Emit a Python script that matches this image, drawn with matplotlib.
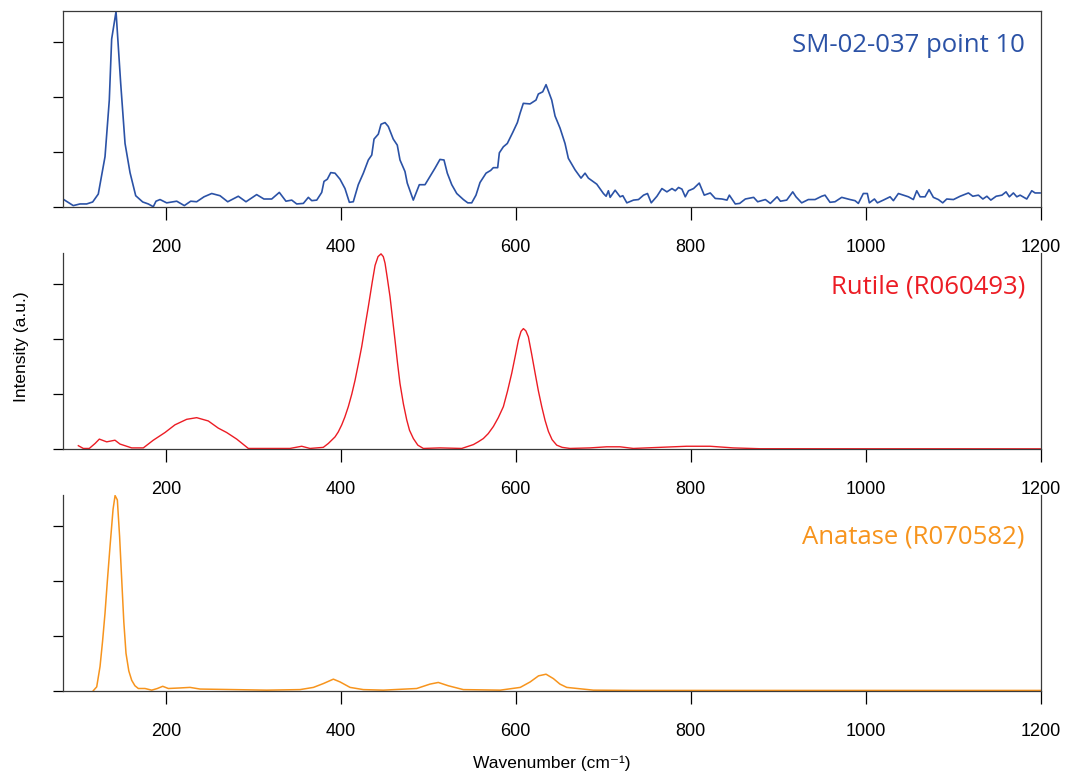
import matplotlib

matplotlib.use("Agg")
import matplotlib.pyplot as plt

# sample spectrum (SM-02-037 point 10)
sample_x = [82.6, 94, 101.7, 109.3, 116.2, 122.6, 130.3, 135.2, 137.9, 142.9, 148.2, 153.2,
            158.9, 165.4, 173.4, 179.8, 185.5, 188.6, 193.2, 200.8, 212.3, 221, 228.3, 235.1,
            243.5, 252.3, 261.8, 270.6, 282.7, 291.5, 303.7, 312, 320.9, 329.6, 337.2, 343.8,
            349.5, 357.1, 362.8, 366.7, 372.4, 378.1, 380.7, 384.5, 388.4, 393.3, 399, 404.7,
            409.7, 414.2, 419.9, 425.7, 431.4, 435.3, 437.9, 442.8, 445.9, 450.5, 454.2, 459.9,
            464.5, 467.6, 473.3, 475.9, 482.8, 489.7, 496.2, 501.9, 507.6, 513.3, 517.9, 521.7,
            526.8, 532.5, 540.1, 545.1, 549.6, 554.5, 559.1, 566, 571.3, 574.3, 579.3, 581.2,
            585.8, 590.3, 596.5, 601.8, 604.9, 608.6, 616.3, 623.1, 625.8, 630.8, 634.6, 641.1,
            644.9, 650.6, 656.3, 660.1, 667.8, 674.6, 679.2, 683, 692.6, 700.2, 703.3, 705.9,
            707.9, 713.6, 719.3, 722.4, 727, 734.6, 740.3, 746.1, 750.6, 754.9, 761.4, 767.1,
            772.8, 778.6, 782.4, 786.1, 790, 793.8, 797.5, 803.3, 809.8, 815.5, 822.4, 828.1,
            835.8, 841.5, 844.2, 851, 856, 862.5, 872, 876.6, 885.4, 891.1, 898.8, 902.6,
            909.8, 916.7, 920.4, 926.9, 934.5, 942.2, 949.8, 953.6, 959.3, 965, 972.7, 982.2,
            987.9, 991.7, 997.4, 1002, 1004.3, 1010.1, 1013.5, 1020.3, 1028, 1031.8, 1037.5,
            1043.3, 1049, 1054.6, 1058.5, 1062.3, 1068, 1072.6, 1077.5, 1083.2, 1088.2, 1092.8,
            1100.5, 1108.1, 1117.6, 1122.6, 1129, 1134.1, 1138.7, 1143.2, 1149.3, 1155.9,
            1160.6, 1164.4, 1169, 1172.9, 1176.7, 1184.3, 1190, 1193.8, 1199.5]
sample_y = [0.135, 0.02, 0.05, 0.05, 0.086, 0.23, 0.91, 1.94, 3.05, 3.55, 2.25, 1.15,
            0.62, 0.20, 0.086, 0.05, 0.0, 0.10, 0.13, 0.07, 0.10, 0.02, 0.10, 0.09,
            0.18, 0.24, 0.20, 0.09, 0.19, 0.09, 0.22, 0.14, 0.14, 0.26, 0.10, 0.12,
            0.05, 0.06, 0.17, 0.11, 0.12, 0.26, 0.46, 0.50, 0.62, 0.61, 0.50, 0.33,
            0.08, 0.09, 0.40, 0.61, 0.85, 0.94, 1.23, 1.32, 1.50, 1.53, 1.46, 1.23,
            1.12, 0.85, 0.64, 0.43, 0.12, 0.40, 0.40, 0.55, 0.70, 0.86, 0.85, 0.61,
            0.40, 0.24, 0.13, 0.07, 0.07, 0.21, 0.44, 0.61, 0.66, 0.71, 0.71, 0.98,
            1.09, 1.15, 1.35, 1.53, 1.70, 1.88, 1.87, 1.94, 2.05, 2.09, 2.22, 1.94,
            1.65, 1.43, 1.15, 0.88, 0.67, 0.52, 0.61, 0.52, 0.41, 0.24, 0.19, 0.29,
            0.17, 0.30, 0.18, 0.20, 0.07, 0.12, 0.13, 0.21, 0.24, 0.07, 0.19, 0.33,
            0.27, 0.33, 0.29, 0.35, 0.32, 0.18, 0.29, 0.33, 0.43, 0.21, 0.25, 0.15,
            0.14, 0.12, 0.21, 0.05, 0.06, 0.14, 0.17, 0.09, 0.13, 0.06, 0.18, 0.10,
            0.12, 0.27, 0.18, 0.07, 0.13, 0.13, 0.19, 0.21, 0.08, 0.09, 0.17, 0.13,
            0.11, 0.06, 0.24, 0.24, 0.07, 0.14, 0.07, 0.12, 0.18, 0.11, 0.24,
            0.21, 0.18, 0.13, 0.29, 0.18, 0.18, 0.31, 0.17, 0.13, 0.07, 0.14,
            0.13, 0.19, 0.25, 0.19, 0.21, 0.14, 0.19, 0.12, 0.19, 0.21,
            0.27, 0.18, 0.25, 0.18, 0.21, 0.14, 0.29, 0.25, 0.25]

# rutile reference (R060493)
rutile_x = [99.8, 105.5, 112.3, 118.9, 123.8, 132.2, 141.7, 147.4, 160.8, 174.1, 185.5, 198.9,
            210.3, 223.7, 235.1, 248.4, 259.8, 269.4, 280.9, 294.2, 315.2, 341.8, 355.2, 364.7,
            379.9, 385.6, 393.3, 397, 401, 404.5, 408.5, 412.5, 416.2, 420, 423.8, 427.5,
            431.4, 436, 439.1, 442.5, 445.9, 448.5, 450.5, 453, 456.2, 459, 461.9, 464.8,
            467.6, 471.5, 475.3, 478.5, 482.9, 488, 494.3, 513.4, 538.2, 551.5, 557, 562.9,
            568.5, 574.4, 580, 585.8, 590.5, 595.4, 599.5, 603, 606, 608.7, 611.5, 614.4,
            618, 622.1, 625.8, 629.7, 633.5, 637.3, 641.5, 646.8, 653, 662, 684.9, 704, 719.2,
            734.4, 764.9, 795.4, 822.1, 848.7, 879.2, 902, 1000, 1100, 1200]
rutile_y = [0.06, 0.01, 0.01, 0.10, 0.18, 0.13, 0.16, 0.09, 0.02, 0.02, 0.16, 0.30,
            0.44, 0.54, 0.57, 0.51, 0.38, 0.30, 0.18, 0.01, 0.01, 0.01, 0.05, 0.01,
            0.03, 0.10, 0.22, 0.31, 0.44, 0.58, 0.77, 1.0, 1.25, 1.55, 1.86, 2.22,
            2.59, 3.05, 3.34, 3.50, 3.55, 3.50, 3.38, 3.12, 2.77, 2.38, 1.98, 1.56,
            1.19, 0.82, 0.53, 0.34, 0.19, 0.07, 0.01, 0.02, 0.01, 0.08, 0.13, 0.19,
            0.28, 0.41, 0.57, 0.77, 1.05, 1.38, 1.70, 1.98, 2.14, 2.19, 2.15, 2.04,
            1.74, 1.38, 1.06, 0.77, 0.52, 0.32, 0.17, 0.07, 0.03, 0.01, 0.02, 0.04, 0.04,
            0.01, 0.03, 0.05, 0.05, 0.02, 0.005, 0.005, 0.004, 0.004, 0.003]

# anatase reference (R070582)
anatase_x = [116.9, 120.8, 124.6, 127.5, 130.3, 133, 136, 139.5, 141.8, 144.4, 147, 149.4,
             151.8, 154.3, 157.5, 160.8, 164.5, 168.4, 176, 183.7, 190.1, 196.3, 202.7, 216.1,
             227.5, 239, 277.1, 315.2, 353.3, 368.6, 380, 391.4, 399, 410.5, 425.7, 448.5,
             486.7, 501.9, 511.4, 522.8, 540, 582.3, 605.1, 616.5, 626, 634.6, 643, 650.5,
             658.3, 688.7, 734.4, 1200]
anatase_y = [0.0, 0.07, 0.44, 0.90, 1.41, 2.0, 2.62, 3.30, 3.55, 3.47, 2.80, 2.02,
             1.25, 0.68, 0.36, 0.19, 0.09, 0.04, 0.04, 0.01, 0.04, 0.08, 0.04, 0.05,
             0.06, 0.03, 0.02, 0.01, 0.02, 0.06, 0.13, 0.21, 0.16, 0.06, 0.02, 0.01,
             0.04, 0.12, 0.15, 0.09, 0.02, 0.01, 0.06, 0.16, 0.27, 0.30, 0.22, 0.12,
             0.06, 0.01, 0.005, 0.005]

panels = [
    (sample_x, sample_y, "#2b52a6", "SM-02-037 point 10", 1.2),
    (rutile_x, rutile_y, "#ec1c24", "Rutile (R060493)", 1.0),
    (anatase_x, anatase_y, "#f7941d", "Anatase (R070582)", 1.1),
]
xticks = [200, 400, 600, 800, 1000, 1200]

plt.rcParams["font.family"] = ["Liberation Sans", "DejaVu Sans"]

W, H = 1068, 781
fig = plt.figure(figsize=(W / 100, H / 100), dpi=100)

# axes boxes in pixels: (left, top, right, bottom)
boxes = [(63.3, 11, 1040.5, 206.7), (63.3, 253.3, 1040.5, 449), (63.3, 495, 1040.5, 690.7)]
label_y = [45, 287, 537]

spine_col = "#3a3a3a"
for i, ((x, y, col, name, lw), (l, t, r, b)) in enumerate(zip(panels, boxes)):
    ax = fig.add_axes([l / W, 1 - b / H, (r - l) / W, (b - t) / H])
    ax.plot(x, y, color=col, lw=lw)
    ax.set_xlim(82.6, 1200)
    ax.set_ylim(0, 3.56)
    ax.set_xticks(xticks)
    ax.set_yticks([0, 1, 2, 3])
    ax.set_yticklabels([])
    ax.tick_params(axis="x", direction="out", length=9, width=0.9, pad=14,
                   labelsize=13, colors="black")
    ax.tick_params(axis="y", direction="out", length=7, width=0.9, labelleft=False)
    for s in ax.spines.values():
        s.set_color(spine_col)
        s.set_linewidth(0.9)
    if i > 0:
        ax.spines["top"].set_visible(False)
    fig.text(1025 / W, 1 - label_y[i] / H, name, color=col, fontsize=18.5,
             family=["Open Sans", "DejaVu Sans"], ha="right", va="center")

fig.text(21.7 / W, 1 - 347 / H, "Intensity (a.u.)", rotation=90, fontsize=12.5,
         ha="center", va="center")
fig.text(552 / W, 1 - 763 / H, "Wavenumber (cm\u207b\u00b9)", fontsize=12.5,
         ha="center", va="center")

fig.savefig("out.png", dpi=100)
